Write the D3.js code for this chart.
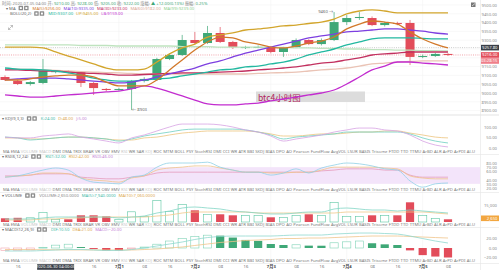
<!DOCTYPE html>
<html>
<head>
<meta charset="utf-8">
<script src="https://cdn.jsdelivr.net/npm/d3@7"></script>
<style>
body { margin: 0; background: #fff; }
svg { display: block; font-family: "Noto Sans", "Noto Sans CJK SC", sans-serif; }
</style>
</head>
<body>
<svg></svg>
<script>
const SVG = d3.select('svg').attr('width', 499).attr('height', 270);

// --- data: BTC 4h candles, 2020-06-29 12:00 .. 2020-07-05 08:00
const times = d3.timeHours(new Date(2020, 5, 29, 12), new Date(2020, 6, 5, 12), 4);
const opens  = [9091,9068,9051,9057,9120,9124,9119,9057,9023,9020,9023,9068,9074,9193,9216,9301,9284,9341,9290,9258,9261,9261,9233,9261,9301,9278,9301,9403,9426,9426,9386,9398,9398,9207,9210,9222];
const highs  = [9100,9075,9068,9193,9130,9130,9125,9062,9028,9030,9074,9090,9200,9225,9330,9347,9381,9375,9296,9268,9270,9266,9262,9310,9306,9310,9460,9443,9460,9435,9405,9405,9415,9218,9228,9226];
const lows   = [9068,9045,9042,9050,9112,9112,9034,8989,9010,9012,8903,9060,9068,9187,9210,9278,9278,9284,9250,9250,9255,9225,9205,9255,9272,9270,9295,9386,9415,9380,9378,9385,9159,9198,9205,9210];
const closes = [9074,9051,9062,9125,9124,9119,9057,9028,9017,9023,9068,9080,9193,9216,9301,9284,9341,9290,9261,9261,9262,9233,9256,9301,9278,9301,9403,9426,9432,9386,9398,9396,9205,9210,9222,9216];

// moving averages / bollinger
const ma5  = [9074,9074,9080,9091,9097,9102,9102,9091,9062,9040,9040,9040,9074,9131,9188,9244,9290,9318,9313,9290,9278,9261,9256,9267,9284,9295,9318,9364,9392,9409,9403,9392,9347,9307,9278,9256];
const ma10 = [9074,9080,9085,9085,9085,9080,9074,9068,9062,9057,9062,9074,9091,9108,9125,9142,9165,9182,9205,9227,9244,9261,9278,9295,9313,9324,9335,9347,9352,9358,9364,9364,9358,9352,9341,9335];
const ma30 = [9131,9131,9128,9125,9125,9119,9114,9111,9108,9102,9102,9105,9108,9111,9114,9114,9116,9119,9122,9125,9131,9136,9142,9148,9159,9170,9176,9188,9199,9216,9222,9227,9233,9233,9233,9233];
const ma60 = [9136,9136,9134,9131,9128,9125,9122,9119,9116,9114,9111,9108,9108,9108,9108,9108,9108,9108,9108,9108,9111,9114,9116,9119,9125,9131,9136,9142,9153,9165,9170,9176,9179,9182,9182,9182];
const ma99 = [9273,9273,9273,9273,9273,9273,9270,9270,9270,9267,9267,9267,9267,9267,9264,9264,9264,9261,9261,9261,9261,9259,9259,9256,9256,9253,9253,9250,9250,9247,9247,9244,9244,9241,9241,9239];
const bollUp  = [9261,9261,9261,9256,9233,9210,9188,9165,9142,9131,9131,9136,9176,9222,9256,9278,9318,9330,9341,9358,9364,9372,9381,9386,9395,9403,9420,9449,9466,9472,9466,9455,9455,9455,9455,9455];
const bollMid = [9142,9136,9134,9131,9125,9114,9102,9085,9074,9068,9068,9074,9080,9085,9097,9108,9119,9131,9136,9148,9153,9165,9176,9193,9216,9233,9250,9273,9290,9307,9313,9313,9313,9310,9307,9307];
const bollLow = [8989,8983,8977,8977,8983,8989,8994,9000,9006,9011,9023,9040,9028,9006,8983,8960,8938,8932,8932,8938,8943,8955,8966,8977,8989,9000,9017,9051,9091,9131,9153,9176,9176,9170,9165,9159];

// KDJ
const kdjK = [52,48,38,43,48,52,52,48,43,33,43,57,67,76,86,90,90,90,90,86,76,62,43,52,57,62,67,76,76,76,76,76,67,48,33,24];
const kdjD = [48,48,43,43,48,52,52,48,43,38,38,48,52,62,71,76,81,81,81,81,76,67,57,57,62,67,67,71,76,76,81,81,71,62,52,48];
const kdjJ = [52,48,48,57,62,67,52,43,33,24,48,62,81,100,114,114,114,110,100,86,76,57,33,43,52,62,76,86,95,95,86,81,62,33,14,5];

// RSI
const rsi1 = [46,49,56,63,68,63,44,34,32,30,46,51,70,80,80,80,82,70,63,58,58,51,56,66,56,68,75,80,78,73,66,63,37,22,30,32];
const rsi2 = [46,49,51,56,56,54,44,39,37,34,44,49,63,68,70,73,73,68,63,58,58,56,56,58,58,63,70,70,70,70,68,66,49,44,42,42];
const rsi3 = [49,49,51,54,54,54,46,44,42,42,46,49,56,58,58,58,58,58,58,58,58,58,58,58,58,61,63,66,66,66,63,63,51,46,46,46];

// volume
const volumes = [3530,3970,3970,8820,2650,2650,6170,6170,5290,2650,9260,5290,19400,9700,15880,10580,7060,7060,6170,6170,6170,4410,4410,6170,7060,6170,17640,5290,5290,6170,6170,6170,17640,6170,3530,2650];
const volMa5  = [2650,2650,2650,3530,4410,4410,4410,4410,4410,3530,4410,5290,7940,9700,12350,13230,12350,11470,9700,8820,7940,7060,7060,7940,8820,8820,11470,12350,11470,10580,10580,9700,10580,9700,8820,7940];
const volMa10 = [1760,1760,1760,2650,2650,3530,3530,4410,4410,4410,4410,4410,5290,6170,7940,8820,8820,8820,8820,8820,7940,7940,7940,7940,7940,7940,7940,8820,8820,8820,8820,8820,8820,8820,7940,7060];

// MACD
const macdDif  = [-6.3,-6.3,-6.3,-5.3,-4.2,-3.2,-3.2,-4.2,-5.3,-5.3,-3.2,0,4.2,8.4,12.6,17.9,22,24.2,25.2,25.2,25.2,25.2,26.3,27.3,27.3,27.3,29.4,30.5,31.5,31.5,30.5,29.4,25.2,19.9,14.7,10.5];
const macdDea  = [-3.2,-3.2,-3.4,-3.6,-3.8,-4,-4,-4,-4.2,-4.2,-4.2,-3.2,-2.1,0,2.1,5.3,8.4,11.6,13.7,15.8,16.8,17.9,20,20,21,21,22,23.1,24.2,25.2,25.2,25.2,24.2,23.1,22,21];
const macdHist = [-5,-4.5,-4,1.5,6,8,2,-2,-5,-5,-2,2,8,14.7,20,24,27,26,22,17,15,8.4,6.3,6.8,5,4.8,11,13,14.7,10,7.7,6.3,-5,-15,-18,-20];

// tick labels
const priceTicks = d3.range(8900, 9501, 50);
const kdjTicks = [0, 50, 100];
const rsiTicks = [20, 30, 40, 60, 70, 80];
const volTicks = [15000];
const macdTicks = [-20, 0, 20];
const tabNames = ['MA','EMA','VOLUME','MACD','DMI','DMA','TRIX','BRAR','VR','OBV','EMV','RSI','WR','SAR','KDJ','ROC','MTM','BOLL','PSY','StochRSI','DMI','CCI','WR','ATR','BBI','SKDJ','BIAS','DPO','AO','Pearson','FundFlow','AvgVOL','LSUR','BASIS','Trisome','FTDD','TTD','TTMU','ArBD','ALR','ArPD','ArPDI','Al-U'];
const activeTabs = ['VOLUME', 'MACD', 'RSI', 'KDJ'];

// ---
const UP = '#3fa877', DOWN = '#e24c5a';
const N = closes.length;
const FS = 4.2;
const x = d3.scaleLinear().domain([0, N - 1]).range([5, 448]);
const yMain = d3.scaleLinear().domain([8900, 9500]).range([110.6, 5]);
const yKdj = d3.scaleLinear().domain([0, 100]).range([148, 127]);
const yRsi = d3.scaleLinear().domain([20, 80]).range([188, 163]);
const yVol = d3.scaleLinear().domain([0, 15000]).range([222, 205]);
const yMacd = d3.scaleLinear().domain([-20, 20]).range([257.5, 238.5]);
const fmt2 = d3.format('.2f');

// text helpers
function flow(g, items, x0, y, gap) {
  let xx = x0;
  items.forEach(it => {
    if (it.icons) {
      [0, 5.5].forEach(dx => {
        g.append('rect').attr('x', xx + dx).attr('y', y - 3.7).attr('width', 4.5).attr('height', 4.5)
          .attr('rx', 0.6).attr('fill', '#8c8c8c');
        g.append('rect').attr('x', xx + dx + 1.3).attr('y', y - 2.4).attr('width', 1.9).attr('height', 1.9)
          .attr('fill', '#fff');
      });
      xx += 11 + gap;
      return;
    }
    const t = g.append('text').attr('x', xx).attr('y', y).attr('font-size', FS)
      .attr('fill', it.c || '#888').text(it.t);
    xx += t.node().getComputedTextLength() + gap;
  });
}

function rightAxis(scale, values, fmt) {
  const g = SVG.append('g').attr('transform', 'translate(498,0)')
    .call(d3.axisLeft(scale).tickValues(values).tickFormat(fmt).tickSize(0).tickPadding(1));
  g.select('.domain').remove();
  g.attr('font-size', FS).attr('font-family', null);
  g.selectAll('text').attr('fill', '#8a8a8a');
}

function tag(yv, txt, fill) {
  SVG.append('rect').attr('x', 481).attr('y', yv - 2.8).attr('width', 18).attr('height', 5.6).attr('fill', fill);
  SVG.append('text').attr('x', 497.5).attr('y', yv + 1.5).attr('text-anchor', 'end')
    .attr('font-size', FS).attr('fill', '#fff').text(txt);
}

function tabRow(y) {
  const g = SVG.append('g');
  const texts = tabNames.map(n => g.append('text').attr('y', y).attr('font-size', FS)
    .attr('fill', activeTabs.includes(n) ? '#c8c8c8' : '#7a7a7a').text(n));
  const widths = texts.map(t => t.node().getComputedTextLength());
  const gap = (475 - 3 - d3.sum(widths)) / (texts.length - 1);
  let xx = 3;
  texts.forEach((t, i) => { t.attr('x', xx); xx += widths[i] + gap; });
}

function drawLine(g, data, y, color, w) {
  g.append('path').datum(data)
    .attr('d', d3.line().x((d, i) => x(i)).y(d => y(d)).curve(d3.curveMonotoneX))
    .attr('fill', 'none').attr('stroke', color).attr('stroke-width', w || 0.8);
}

// frame lines
const grid = SVG.append('g');
priceTicks.forEach(p => grid.append('line').attr('x1', 0).attr('x2', 480).attr('y1', yMain(p)).attr('y2', yMain(p))
  .attr('stroke', '#f4f4f4').attr('stroke-width', 0.6));
const dayIdx = d3.range(N).filter(i => times[i].getHours() === 0);
dayIdx.forEach(i => grid.append('line').attr('x1', x(i)).attr('x2', x(i)).attr('y1', 0).attr('y2', 263)
  .attr('stroke', '#f1f1f1').attr('stroke-width', 0.6));
[115, 154.5, 192.5, 227.5, 263.5].forEach(yy => grid.append('line').attr('x1', 0).attr('x2', 499)
  .attr('y1', yy).attr('y2', yy).attr('stroke', '#e4e4e4').attr('stroke-width', yy === 115 ? 1.2 : 0.6));
grid.append('line').attr('x1', 480.5).attr('x2', 480.5).attr('y1', 0).attr('y2', 270)
  .attr('stroke', '#e4e4e4').attr('stroke-width', 0.6);

// --- main price panel
SVG.append('clipPath').attr('id', 'clipMain').append('rect').attr('width', 480).attr('height', 114);
const main = SVG.append('g').attr('clip-path', 'url(#clipMain)');

// price lines
const crossPrice = 9257.8;
main.append('line').attr('x1', 0).attr('x2', 480).attr('y1', yMain(crossPrice)).attr('y2', yMain(crossPrice))
  .attr('stroke', '#9a9a9a').attr('stroke-width', 0.5).attr('stroke-dasharray', '1,1.2');
main.append('line').attr('x1', 0).attr('x2', 480).attr('y1', yMain(closes[N - 1])).attr('y2', yMain(closes[N - 1]))
  .attr('stroke', DOWN).attr('stroke-width', 0.5).attr('stroke-dasharray', '1,1.2');

// label box
main.append('rect').attr('x', 256).attr('y', 91.5).attr('width', 109).attr('height', 10.5).attr('fill', '#dcdcdc');
main.append('text').attr('x', 258).attr('y', 100.5).attr('font-size', 8.5).attr('fill', '#b0245a')
  .attr('font-family', '"Noto Sans CJK SC", sans-serif').text('btc4小时图');

// candles
const candles = main.selectAll('g.c').data(d3.range(N)).join('g');
candles.append('line').attr('x1', i => x(i)).attr('x2', i => x(i))
  .attr('y1', i => yMain(highs[i])).attr('y2', i => yMain(lows[i]))
  .attr('stroke', i => closes[i] >= opens[i] ? UP : DOWN).attr('stroke-width', 0.7);
candles.append('rect').attr('x', i => x(i) - 4.5).attr('width', 9)
  .attr('y', i => yMain(Math.max(opens[i], closes[i])))
  .attr('height', i => Math.max(1, Math.abs(yMain(opens[i]) - yMain(closes[i]))))
  .attr('fill', i => closes[i] >= opens[i] ? UP : DOWN);

const mainLines = [
  [ma99, '#bfe3bf'], [ma60, '#eac3b5'], [ma30, '#c2305f'], [bollLow, '#c22ccf'], [bollMid, '#22b8a0'],
  [ma10, '#7d3fe0'], [ma5, '#d2782a'], [bollUp, '#d2a52c']
];
mainLines.forEach(([d, c]) => drawLine(main, d, yMain, c, 1.3));

// high / low markers
const hiIdx = d3.maxIndex(highs), loIdx = d3.minIndex(lows);
main.append('text').attr('x', x(hiIdx) - 1).attr('y', yMain(highs[hiIdx]) + 1.3).attr('text-anchor', 'end')
  .attr('font-size', FS).attr('fill', '#666').text(highs[hiIdx] + ' →');
main.append('text').attr('x', x(loIdx) + 0.5).attr('y', yMain(lows[loIdx]) + 1.3)
  .attr('font-size', FS).attr('fill', '#666').text('← ' + lows[loIdx]);

// top-left legends
const hov = N - 2;
const chg = closes[hov] - closes[hov - 1];
const fmtT = d3.timeFormat('%Y-%m-%d %H:%M');
const leg = SVG.append('g');
const vc = chg >= 0 ? UP : DOWN;
flow(leg, [
  { t: '时间: ' + fmtT(times[hov]) },
  { t: '开:' }, { t: fmt2(opens[hov]), c: vc },
  { t: '高:' }, { t: fmt2(highs[hov]), c: vc },
  { t: '低:' }, { t: fmt2(lows[hov]), c: vc },
  { t: '收:' }, { t: fmt2(closes[hov]), c: vc },
  { t: '涨幅:' }, { t: (chg >= 0 ? '▲ +' : '▼ ') + fmt2(chg) + '(' + fmt2(chg / closes[hov - 1] * 100) + '%)', c: vc },
  { t: '振幅:' }, { t: fmt2((highs[hov] - lows[hov]) / closes[hov - 1] * 100) + '%', c: vc }
], 2, 4.5, 1.2);
flow(leg, [
  { t: '▾ MA', c: '#666' }, { icons: true },
  { t: 'MA(5):' + fmt2(ma5[N - 1]), c: '#d2782a' },
  { t: 'MA(10):' + fmt2(ma10[N - 1]), c: '#7d3fe0' },
  { t: 'MA(30):' + fmt2(ma30[N - 1]), c: '#c2305f' },
  { t: 'MA(60):' + fmt2(ma60[N - 1]), c: '#d9a896' },
  { t: 'MA(99):' + fmt2(ma99[N - 1]), c: '#8fcf8f' }
], 6, 9.5, 3);
flow(leg, [
  { t: 'BOLL(20,2)', c: '#666' }, { icons: true },
  { t: 'MID:' + fmt2(bollMid[N - 1]), c: '#22b8a0' },
  { t: 'UP:' + fmt2(bollUp[N - 1]), c: '#d2a52c' },
  { t: 'LB:' + fmt2(bollLow[N - 1]), c: '#c22ccf' }
], 10, 15, 3);

// small tool icons
SVG.append('path').attr('d', 'M8.5,29.5 L12.5,25.5 M10.5,25.5 L12.5,25.5 L12.5,27.5 M8.5,27.5 L8.5,29.5 L10.5,29.5')
  .attr('fill', 'none').attr('stroke', '#999').attr('stroke-width', 0.6);
SVG.append('rect').attr('x', 471).attr('y', 2.5).attr('width', 4.5).attr('height', 4.5).attr('fill', '#777');
SVG.append('path').attr('d', 'M472,6 L475,3.5').attr('stroke', '#fff').attr('stroke-width', 0.6);

// price axis: hide tick labels that sit under the price tags
const tagYs = [yMain(crossPrice), yMain(closes[N - 1]), yMain(closes[N - 1]) + 6];
rightAxis(yMain, priceTicks.filter(p => tagYs.every(t => Math.abs(yMain(p) - t) > 5)), fmt2);
tag(tagYs[0], fmt2(crossPrice), '#3a3f47');
tag(tagYs[1], fmt2(closes[N - 1]), DOWN);
tag(tagYs[2], '03:28:15', '#ef7f8a');

// --- KDJ panel
const kdjG = SVG.append('g');
drawLine(kdjG, kdjD, yKdj, '#ecc47e');
drawLine(kdjG, kdjK, yKdj, '#6fcfc2');
drawLine(kdjG, kdjJ, yKdj, '#d7a2e3');
flow(SVG.append('g'), [
  { t: '▾ KDJ(9,3,3)', c: '#666' }, { icons: true },
  { t: 'K:' + fmt2(kdjK[N - 1]), c: '#3fb9a8' },
  { t: 'D:' + fmt2(kdjD[N - 1]), c: '#dca74c' },
  { t: 'J:' + fmt2(kdjJ[N - 1]), c: '#c47fd6' }
], 2, 120, 3);
rightAxis(yKdj, kdjTicks, fmt2);
tabRow(152.5);

// --- RSI panel
const rsiG = SVG.append('g');
rsiG.append('rect').attr('x', 0).attr('width', 480).attr('y', yRsi(70)).attr('height', yRsi(30) - yRsi(70))
  .attr('fill', '#f3e4fa');
drawLine(rsiG, rsi3, yRsi, '#e69bbb');
drawLine(rsiG, rsi2, yRsi, '#efc48a');
drawLine(rsiG, rsi1, yRsi, '#8fd0e6');
flow(SVG.append('g'), [
  { t: '▾ RSI(6,12,24)', c: '#666' }, { icons: true },
  { t: 'RSI1:' + fmt2(rsi1[N - 1]), c: '#3fb9a8' },
  { t: 'RSI2:' + fmt2(rsi2[N - 1]), c: '#dca74c' },
  { t: 'RSI3:' + fmt2(rsi3[N - 1]), c: '#c47fd6' }
], 2, 158, 3);
rightAxis(yRsi, rsiTicks, fmt2);
tabRow(190.5);

// --- Volume panel
const volG = SVG.append('g');
volG.selectAll('rect').data(d3.range(N)).join('rect')
  .attr('x', i => x(i) - 4.1).attr('width', 8.2)
  .attr('y', i => yVol(volumes[i]) + 0.3).attr('height', i => Math.max(0.8, yVol(0) - yVol(volumes[i]) - 0.3))
  .attr('fill', i => closes[i] >= opens[i] ? '#fff' : DOWN)
  .attr('stroke', i => closes[i] >= opens[i] ? '#5cc6a2' : 'none').attr('stroke-width', 0.6);
drawLine(volG, volMa10, yVol, '#f0c98a');
drawLine(volG, volMa5, yVol, '#82d6c5');
const fmtVol = d3.format(',.4f');
flow(SVG.append('g'), [
  { t: '▾ VOLUME', c: '#666' }, { icons: true },
  { t: 'VOLUME:' + fmtVol(volumes[N - 1]), c: '#888' },
  { t: 'MA(5):' + fmtVol(volMa5[N - 1]), c: '#3fb9a8' },
  { t: 'MA(10):' + fmtVol(volMa10[N - 1]), c: '#dca74c' }
], 2, 197, 3);
rightAxis(yVol, volTicks, d3.format(','));
SVG.append('rect').attr('x', 481).attr('y', yVol(volumes[N - 1]) - 3.5).attr('width', 18).attr('height', 5.6).attr('fill', '#f2a640');
SVG.append('text').attr('x', 497.5).attr('y', yVol(volumes[N - 1]) + 0.8).attr('text-anchor', 'end')
  .attr('font-size', FS).attr('fill', '#fff').text(d3.format(',')(volumes[N - 1]));
tabRow(225.8);

// --- MACD panel
const macdG = SVG.append('g');
macdG.selectAll('rect').data(d3.range(N)).join('rect')
  .attr('x', i => x(i) - 4.1).attr('width', 8.2)
  .attr('y', i => yMacd(Math.max(0, macdHist[i])))
  .attr('height', i => Math.max(0.8, Math.abs(yMacd(macdHist[i]) - yMacd(0))))
  .attr('fill', i => {
    const v = macdHist[i], rising = i === 0 || v > macdHist[i - 1];
    if (v >= 0) return rising ? '#fff' : UP;
    return rising ? '#fff' : DOWN;
  })
  .attr('stroke', i => {
    const v = macdHist[i], rising = i === 0 || v > macdHist[i - 1];
    if (!rising) return 'none';
    return v >= 0 ? '#7fd3b6' : '#f2a3ad';
  }).attr('stroke-width', 0.6);
drawLine(macdG, macdDea, yMacd, '#f0c48a');
drawLine(macdG, macdDif, yMacd, '#8fd8cf');
flow(SVG.append('g'), [
  { t: '▾ MACD(12,26,9)', c: '#666' }, { icons: true },
  { t: 'DIF:' + fmt2(macdDif[N - 1]), c: '#3fb9a8' },
  { t: 'DEA:' + fmt2(macdDea[N - 1]), c: '#dca74c' },
  { t: 'MACD:' + fmt2(macdHist[N - 1]), c: '#c47fd6' }
], 2, 231, 3);
rightAxis(yMacd, macdTicks, fmt2);
tabRow(261.5);

// --- date axis (labels under the crosshair box are hidden, as in the reference)
const crossIdx = 4;
const boxL = x(crossIdx) - 18.5, boxR = x(crossIdx) + 18.5;
const tickIdx = d3.range(N).filter(i => times[i].getHours() % 8 === 0 && (x(i) < boxL - 5 || x(i) > boxR + 5));
const dateAxis = SVG.append('g').attr('transform', 'translate(0,264)')
  .call(d3.axisBottom(x).tickValues(tickIdx).tickSize(0).tickPadding(1.5)
    .tickFormat(i => times[i].getHours() === 0 ? (times[i].getMonth() + 1) + '月' + times[i].getDate()
      : d3.timeFormat('%H')(times[i])));
dateAxis.select('.domain').remove();
dateAxis.attr('font-size', FS).attr('font-family', null);
dateAxis.selectAll('text').attr('fill', '#777');
dateAxis.selectAll('.tick').filter(i => times[i].getHours() === 0).select('text')
  .attr('fill', '#444').attr('font-weight', 'bold');

// crosshair time box
SVG.append('rect').attr('x', boxL).attr('y', 264.2).attr('width', boxR - boxL).attr('height', 5.6).attr('fill', '#3a3f47');
SVG.append('text').attr('x', x(crossIdx)).attr('y', 268.4).attr('text-anchor', 'middle').attr('font-size', FS)
  .attr('fill', '#fff').text(d3.timeFormat('%Y-%m-%d %H:%M:%S')(times[crossIdx]));
</script>
</body>
</html>
